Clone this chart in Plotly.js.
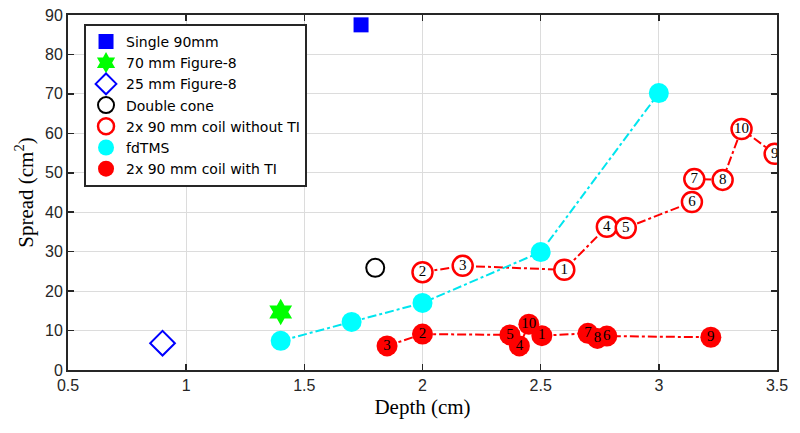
<!DOCTYPE html>
<html>
<head>
<meta charset="utf-8">
<script src="https://cdn.plot.ly/plotly-3.0.1.min.js"></script>
<style>html,body{margin:0;padding:0;background:#fff;}#chart{width:800px;height:433px;}</style>
</head>
<body>
<div id="chart"></div>
<script>
// Single-point coils
const single90X = [1.74], single90Y = [87.5];
const fig8_70X = [1.4], fig8_70Y = [14.7];
const fig8_25X = [0.9], fig8_25Y = [6.8];
const dconeX = [1.8], dconeY = [25.9];
// fdTMS
const fdX = [1.4, 1.7, 2.0, 2.5, 3.0];
const fdY = [7.4, 12.2, 17.0, 29.9, 70.2];
// 2x 90 mm coil without TI (in line order)
const noTiLabels = ['2', '3', '1', '4', '5', '6', '7', '8', '10', '9'];
const noTiX = [2.0, 2.17, 2.60, 2.78, 2.86, 3.14, 3.15, 3.27, 3.35, 3.49];
const noTiY = [24.8, 26.4, 25.4, 36.3, 36.0, 42.6, 48.4, 48.2, 61.1, 54.8];
// 2x 90 mm coil with TI (in line order)
const tiLabels = ['3', '2', '5', '4', '10', '1', '7', '8', '6', '9'];
const tiX = [1.85, 2.0, 2.37, 2.41, 2.45, 2.505, 2.70, 2.74, 2.78, 3.22];
const tiY = [6.1, 9.1, 8.9, 6.1, 11.6, 8.7, 9.3, 8.0, 8.6, 8.3];

const xTicks = [0.5, 1, 1.5, 2, 2.5, 3, 3.5];
const xTickText = ['0.5', '1', '1.5', '2', '2.5', '3', '3.5'];
const yTicks = [0, 10, 20, 30, 40, 50, 60, 70, 80, 90];

const serif = 'Liberation Serif, Times New Roman, serif';
const sans = 'Liberation Sans, Arial, sans-serif';
const traces = [
  {x: single90X, y: single90Y, mode: 'markers', name: 'Single 90mm',
   marker: {symbol: 'square', size: 15, color: '#0000ff'}},
  {x: fig8_70X, y: fig8_70Y, mode: 'markers', name: '70 mm Figure-8',
   marker: {symbol: 'hexagram', size: 20, color: '#00ff00'}},
  {x: fig8_25X, y: fig8_25Y, mode: 'markers', name: '25 mm Figure-8',
   marker: {symbol: 'diamond-open', size: 19, color: '#0000ff', line: {width: 2, color: '#0000ff'}}},
  {x: dconeX, y: dconeY, mode: 'markers', name: 'Double cone',
   marker: {symbol: 'circle-open', size: 18, color: '#000000', line: {width: 2, color: '#000000'}}},
  // lines (no legend)
  {x: noTiX, y: noTiY, mode: 'lines', showlegend: false, hoverinfo: 'skip',
   line: {color: '#ff0000', width: 2, dash: 'dashdot'}},
  {x: fdX, y: fdY, mode: 'lines', showlegend: false, hoverinfo: 'skip',
   line: {color: '#00e5ee', width: 2, dash: 'dashdot'}},
  {x: tiX, y: tiY, mode: 'lines', showlegend: false, hoverinfo: 'skip',
   line: {color: '#ff0000', width: 2, dash: 'dashdot'}},
  {x: noTiX, y: noTiY, mode: 'markers', name: '2x 90 mm coil without TI',
   marker: {symbol: 'circle', size: 20, color: '#ffffff', line: {width: 2.5, color: '#ff0000'}}},
  {x: fdX, y: fdY, mode: 'markers', name: 'fdTMS',
   marker: {symbol: 'circle', size: 20, color: '#00ffff', line: {width: 0}}},
  {x: tiX, y: tiY, mode: 'markers', name: '2x 90 mm coil with TI',
   marker: {symbol: 'circle', size: 21, color: '#ff0000', line: {width: 0}}},
  {x: noTiX, y: noTiY, mode: 'text', text: noTiLabels, showlegend: false, hoverinfo: 'skip',
   textposition: 'middle center', textfont: {family: serif, size: 15, color: '#000'}},
  {x: tiX, y: tiY, mode: 'text', text: tiLabels, showlegend: false, hoverinfo: 'skip',
   textposition: 'middle center', textfont: {family: serif, size: 15, color: '#000'}}
];

const axisCommon = {
  showline: true, linecolor: '#262626', linewidth: 2, mirror: 'ticks',
  ticks: 'inside', ticklen: 6, tickwidth: 1.5, tickcolor: '#262626',
  showgrid: true, gridcolor: '#dcdcdc', gridwidth: 1, zeroline: false,
  tickfont: {family: sans, size: 16, color: '#262626'}
};

const layout = {
  width: 800, height: 433,
  margin: {l: 68, r: 23, t: 15, b: 63},
  paper_bgcolor: '#fff', plot_bgcolor: '#fff',
  xaxis: Object.assign({}, axisCommon, {
    range: [0.5, 3.5], tickvals: xTicks, ticktext: xTickText,
    title: {text: 'Depth (cm)', font: {family: serif, size: 21, color: '#000'}, standoff: 6}
  }),
  yaxis: Object.assign({}, axisCommon, {
    range: [0, 90], tickvals: yTicks,
    title: {text: 'Spread (cm<sup>2</sup>)', font: {family: serif, size: 21, color: '#000'}, standoff: 6}
  }),
  legend: {
    x: 0.0226, y: 0.975, xanchor: 'left', yanchor: 'top',
    bgcolor: '#fff', bordercolor: '#262626', borderwidth: 2,
    font: {family: 'DejaVu Sans, sans-serif', size: 14, color: '#000'},
    tracegroupgap: 0, itemwidth: 30
  },
  showlegend: true
};

Plotly.newPlot('chart', traces, layout, {displayModeBar: false, staticPlot: true});
</script>
</body>
</html>
